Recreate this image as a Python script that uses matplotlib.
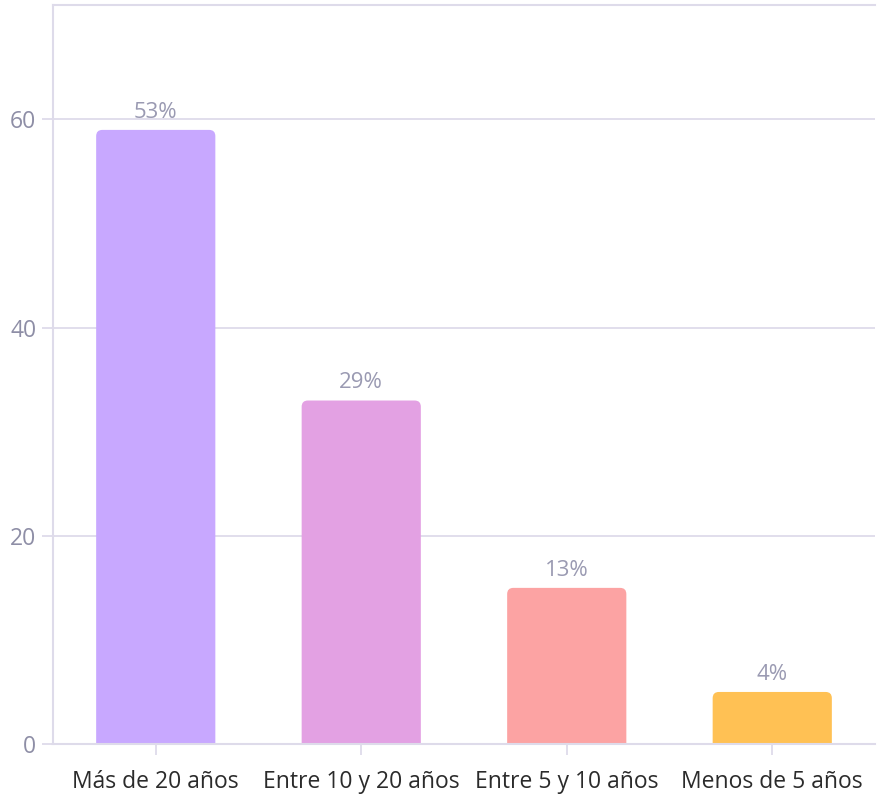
import matplotlib.pyplot as plt
from matplotlib.patches import FancyBboxPatch

categories = ["Más de 20 años", "Entre 10 y 20 años", "Entre 5 y 10 años", "Menos de 5 años"]
values = [59, 33, 15, 5]
labels = ["53%", "29%", "13%", "4%"]
colors = ["#c8a8ff", "#e3a1e3", "#fca3a3", "#ffc154"]

plt.rcParams["font.family"] = ["Open Sans", "DejaVu Sans"]
grid_c = "#dedbea"

fig = plt.figure(figsize=(8.79, 7.96), dpi=100)
ax = fig.add_axes([53 / 879, 52 / 796, 822 / 879, 739 / 796])

bars = ax.bar(range(len(values)), values, width=0.58, color=colors)
# swap plain rectangles for ones with rounded top corners
for rect, c in zip(bars, colors):
    rect.set_visible(False)
    x, w, h = rect.get_x(), rect.get_width(), rect.get_height()
    p = FancyBboxPatch((x, -2), w, h + 2, boxstyle="round,pad=0,rounding_size=0.03",
                       mutation_aspect=20, facecolor=c, edgecolor="none", zorder=2)
    ax.add_patch(p)

for i, (v, t) in enumerate(zip(values, labels)):
    ax.text(i, v + 0.7, t, ha="center", va="bottom", fontsize=16, color="#9a9ab2", zorder=3)

ax.set_xlim(-0.5, 3.5)
ax.set_ylim(0, 71)
ax.set_yticks([0, 20, 40, 60])
ax.set_xticks(range(len(categories)))
ax.set_xticklabels(categories)

ax.grid(axis="y", color=grid_c, linewidth=1.3, zorder=0)
ax.set_axisbelow(True)
ax.spines["right"].set_visible(False)
for s in ["left", "top", "bottom"]:
    ax.spines[s].set_color(grid_c)
    ax.spines[s].set_linewidth(1.5)

ax.tick_params(axis="y", length=8, width=1.3, color=grid_c, labelcolor="#8e8ea6",
               labelsize=16.5, pad=4)
ax.tick_params(axis="x", length=8, width=1.3, color=grid_c, labelcolor="#2b2b2b",
               labelsize=16.5, pad=11)

fig.savefig("out.png", dpi=100)
